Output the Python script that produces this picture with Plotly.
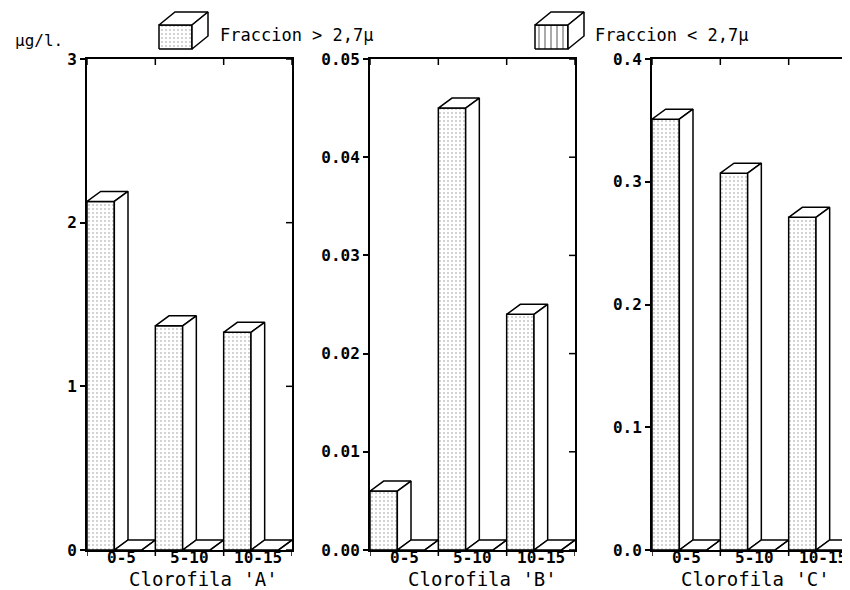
import plotly.graph_objects as go

# ---------------- data ----------------
categories = ["0-5", "5-10", "10-15"]
series_names = ["Fraccion > 2,7μ", "Fraccion < 2,7μ"]
panel_titles = ["Clorofila 'A'", "Clorofila 'B'", "Clorofila 'C'"]
unit_label = "μg/l."

chl_a_gt = [2.13, 1.37, 1.33]
chl_a_lt = [0.0, 0.0, 0.0]
chl_b_gt = [0.006, 0.045, 0.024]
chl_b_lt = [0.0, 0.0, 0.0]
chl_c_gt = [0.351, 0.307, 0.271]
chl_c_lt = [0.0, 0.0, 0.0]

y_max = [3, 0.05, 0.4]
y_ticks_a = [0, 1, 2, 3]
y_ticks_b = [0, 0.01, 0.02, 0.03, 0.04, 0.05]
y_ticks_c = [0, 0.1, 0.2, 0.3, 0.4]
y_labels_a = ["0", "1", "2", "3"]
y_labels_b = ["0.00", "0.01", "0.02", "0.03", "0.04", "0.05"]
y_labels_c = ["0.0", "0.1", "0.2", "0.3", "0.4"]

gt_series = [chl_a_gt, chl_b_gt, chl_c_gt]
lt_series = [chl_a_lt, chl_b_lt, chl_c_lt]
y_ticks = [y_ticks_a, y_ticks_b, y_ticks_c]
y_labels = [y_labels_a, y_labels_b, y_labels_c]

# ---------------- layout constants (screen pixels) ----------------
W, H = 850, 590
PAGE_MARGIN = 8          # browser body margin around the plot div
PANEL_LEFT = [87, 370, 652]
PANEL_W = 205
TOP, BOTTOM = 59, 550
BAR_W = 0.4
DEPTH_X = 0.2
DEPTH_PX = 10
LW = 1.5
TITLE_CX = [203, 482, 755]
TITLE_Y = 579
CAT_Y = 557
FONT = "DejaVu Sans Mono"
CLEAR = "rgba(0,0,0,0)"

dots = dict(shape=".", size=4, solidity=0.08, fgcolor="black", bgcolor="white")
vlines = dict(shape="|", size=6, solidity=0.22, fgcolor="black", bgcolor="white")
patterns = [dots, vlines]


def axname(prefix, n):
    return f"{prefix}axis" if n == 1 else f"{prefix}axis{n}"


def axref(prefix, n):
    return prefix if n == 1 else f"{prefix}{n}"


def fx(px):
    return (px - PAGE_MARGIN) / W


def fy(px):
    return 1 - (px - PAGE_MARGIN) / H


fig = go.Figure()


def poly(xs, ys, xr, yr, pattern=None):
    kw = dict(fillpattern=pattern) if pattern else {}
    fig.add_trace(go.Scatter(
        x=xs + [xs[0]], y=ys + [ys[0]], mode="lines", fill="toself",
        fillcolor="white", line=dict(color="black", width=LW),
        xaxis=xr, yaxis=yr, hoverinfo="skip", showlegend=False, **kw))


layout = dict(
    width=W, height=H, autosize=False,
    margin=dict(l=0, r=0, t=0, b=0, pad=0, autoexpand=False),
    paper_bgcolor="white", plot_bgcolor=CLEAR,
    showlegend=False,
)

annotations = []
shapes = []

for p in range(3):
    left = PANEL_LEFT[p]
    right = left + PANEL_W
    dom_x = [fx(left), min(fx(right), 1.0)]
    dom_y = [fy(BOTTOM), fy(TOP)]
    ymx = y_max[p]
    dy = DEPTH_PX / (BOTTOM - TOP) * ymx

    xref, yref = axref("x", p + 1), axref("y", p + 1)

    for i in range(len(categories)):
        for s, vals in enumerate([gt_series[p], lt_series[p]]):
            v = vals[i]
            x0 = i + s * BAR_W
            x1 = x0 + BAR_W
            poly([x0, x1, x1, x0], [0, 0, v, v], xref, yref, patterns[s])
            poly([x0, x1, x1 + DEPTH_X, x0 + DEPTH_X], [v, v, v + dy, v + dy], xref, yref)
            poly([x1, x1 + DEPTH_X, x1 + DEPTH_X, x1], [0, dy, v + dy, v], xref, yref)

    layout[axname("x", p + 1)] = dict(
        domain=dom_x, anchor=yref, range=[0, 3],
        tickmode="array", tickvals=[0, 1, 2, 3], ticks="",
        showticklabels=False,
        showline=True, linecolor="black", linewidth=2, mirror=True,
        showgrid=False, zeroline=False, automargin=False, fixedrange=True,
    )
    layout[axname("y", p + 1)] = dict(
        domain=dom_y, anchor=xref, range=[0, ymx],
        tickmode="array", tickvals=y_ticks[p], ticktext=y_labels[p],
        ticks="outside", ticklen=5, tickwidth=LW, tickcolor="black",
        showline=True, linecolor="black", linewidth=2, mirror=True,
        showgrid=False, zeroline=False, automargin=False,
        tickfont=dict(family=FONT, size=16, color="black", weight="bold"),
        fixedrange=True,
    )

    # category labels centred in each category slot
    for i, c in enumerate(categories):
        annotations.append(dict(
            text=c, x=i + 0.5, y=fy(CAT_Y), xref=xref, yref="paper",
            xanchor="center", yanchor="middle", showarrow=False,
            font=dict(family=FONT, size=16, color="black", weight="bold"),
        ))

    # frame ticks: bottom (outside, at category boundaries), top (inside), right (inside)
    ydom = f"{yref} domain"
    xdom = f"{xref} domain"
    for k in range(4):
        shapes.append(dict(type="line", xref=xref, yref=ydom, x0=k, x1=k,
                           ysizemode="pixel", yanchor=0, y0=0, y1=-6,
                           line=dict(color="black", width=LW)))
        shapes.append(dict(type="line", xref=xref, yref=ydom, x0=k, x1=k,
                           ysizemode="pixel", yanchor=1, y0=0, y1=-6,
                           line=dict(color="black", width=LW)))
    for t in y_ticks[p]:
        shapes.append(dict(type="line", xref=xdom, yref=yref, y0=t, y1=t,
                           xsizemode="pixel", xanchor=1, x0=0, x1=-6,
                           line=dict(color="black", width=LW)))

    annotations.append(dict(
        text=panel_titles[p], x=fx(TITLE_CX[p]), y=fy(TITLE_Y), xref="paper", yref="paper",
        xanchor="center", yanchor="middle", showarrow=False,
        font=dict(family=FONT, size=19, color="black"),
    ))

# legend overlay axis in screen-pixel space
layout["xaxis10"] = dict(domain=[0, 1], anchor="y10", range=[PAGE_MARGIN, W + PAGE_MARGIN],
                         visible=False, fixedrange=True)
layout["yaxis10"] = dict(domain=[0, 1], anchor="x10", range=[H + PAGE_MARGIN, PAGE_MARGIN],
                         visible=False, fixedrange=True)

ICON_X = [159, 535]
ICON_TOP, ICON_W, ICON_H, ICON_DX, ICON_DY = 25, 33, 24, 16, 13
LEGEND_TEXT_X = [220, 595]
for s in range(2):
    x0 = ICON_X[s]
    x1 = x0 + ICON_W
    y0 = ICON_TOP + ICON_H
    y1 = ICON_TOP
    poly([x0, x1, x1, x0], [y0, y0, y1, y1], "x10", "y10", patterns[s])
    poly([x0, x1, x1 + ICON_DX, x0 + ICON_DX], [y1, y1, y1 - ICON_DY, y1 - ICON_DY], "x10", "y10")
    poly([x1, x1 + ICON_DX, x1 + ICON_DX, x1], [y0, y0 - ICON_DY, y1 - ICON_DY, y1], "x10", "y10")
    annotations.append(dict(
        text=series_names[s], x=fx(LEGEND_TEXT_X[s] - 2), y=fy(35), xref="paper", yref="paper",
        xanchor="left", yanchor="middle", showarrow=False,
        font=dict(family=FONT, size=17, color="black"),
    ))

annotations.append(dict(
    text=unit_label, x=fx(13), y=fy(40), xref="paper", yref="paper",
    xanchor="left", yanchor="middle", showarrow=False,
    font=dict(family=FONT, size=16, color="black"),
))

layout["annotations"] = annotations
layout["shapes"] = shapes
fig.update_layout(**layout)
fig.write_html("out.html")
